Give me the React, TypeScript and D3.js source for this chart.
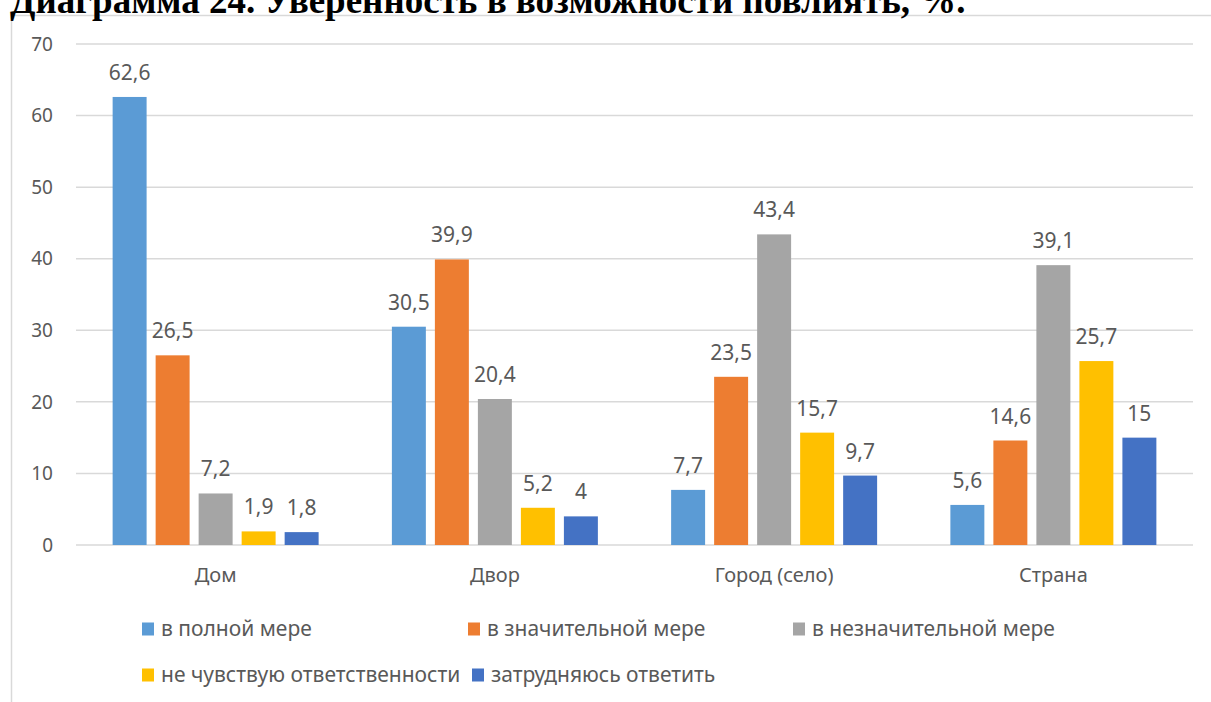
import React, { useEffect, useRef } from "react";
import * as d3 from "d3";

const categories = ["Дом", "Двор", "Город (село)", "Страна"];
const seriesNames = [
  "в полной мере",
  "в значительной мере",
  "в незначительной мере",
  "не чувствую ответственности",
  "затрудняюсь ответить",
];
const seriesColors = ["#5B9BD5", "#ED7D31", "#A5A5A5", "#FFC000", "#4472C4"];
const vPolnoy = [62.6, 30.5, 7.7, 5.6];
const vZnachit = [26.5, 39.9, 23.5, 14.6];
const vNeznachit = [7.2, 20.4, 43.4, 39.1];
const vNeChuvst = [1.9, 5.2, 15.7, 25.7];
const vZatrud = [1.8, 4, 9.7, 15];
const yTicks = [0, 10, 20, 30, 40, 50, 60, 70];
const title = "Диаграмма 24. Уверенность в возможности повлиять, %.";

const W = 1211;
const H = 702;
const FONT = "'Noto Sans', 'Open Sans', sans-serif";
const TXT = "#595959";

export default function App() {
  const ref = useRef<SVGSVGElement | null>(null);

  useEffect(() => {
    const svg = d3.select(ref.current);
    svg.selectAll("*").remove();

    const series = [vPolnoy, vZnachit, vNeznachit, vNeChuvst, vZatrud];
    const left = 76, right = 1193, top = 44, bottom = 545;

    // chart frame
    svg.append("rect").attr("x", 11.5).attr("y", 15.5).attr("width", 1300).attr("height", 800)
      .attr("fill", "#fff").attr("stroke", "#d9d9d9").attr("stroke-width", 1.5);

    // title (cropped at the top, as in the reference)
    svg.append("text").attr("x", 10).attr("y", 13).text(title)
      .attr("font-family", "'Liberation Serif', 'Times New Roman', serif")
      .attr("font-weight", "bold").attr("font-size", 37).attr("fill", "#000");

    const y = d3.scaleLinear().domain([0, 70]).range([bottom, top]);
    const x0 = d3.scaleBand<string>().domain(categories).range([left, right])
      .paddingInner(0.23).paddingOuter(0.115);
    const x1 = d3.scaleBand<number>().domain(d3.range(series.length))
      .range([0, x0.bandwidth()]).paddingInner(0.21).paddingOuter(0.105);

    // gridlines
    svg.append("g").selectAll("line").data(yTicks).join("line")
      .attr("x1", left).attr("x2", right)
      .attr("y1", (d) => y(d)).attr("y2", (d) => y(d))
      .attr("stroke", "#d9d9d9").attr("stroke-width", 1.5);

    // y tick labels
    svg.append("g").selectAll("text").data(yTicks).join("text")
      .attr("x", 53).attr("y", (d) => y(d)).attr("dy", "0.35em")
      .attr("text-anchor", "end").attr("font-family", FONT).attr("font-size", 19)
      .attr("fill", TXT).text((d) => String(d));

    // bars + labels
    const fmt = (v: number) => String(v).replace(".", ",");
    categories.forEach((c, ci) => {
      series.forEach((vals, si) => {
        const v = vals[ci];
        const bx = (x0(c) as number) + (x1(si) as number);
        svg.append("rect").attr("x", bx).attr("y", y(v))
          .attr("width", x1.bandwidth()).attr("height", y(0) - y(v))
          .attr("fill", seriesColors[si]);
        svg.append("text").attr("x", bx + x1.bandwidth() / 2).attr("y", y(v) - 17)
          .attr("text-anchor", "middle").attr("font-family", FONT).attr("font-size", 21)
          .attr("fill", TXT).text(fmt(v));
      });
      svg.append("text").attr("x", (x0(c) as number) + x0.bandwidth() / 2).attr("y", 582)
        .attr("text-anchor", "middle").attr("font-family", FONT).attr("font-size", 20)
        .attr("fill", TXT).text(c);
    });

    // legend
    const legendPos = [
      [142, 629], [468, 629], [793, 629],
      [142, 675], [472, 675],
    ];
    seriesNames.forEach((name, i) => {
      const [lx, ly] = legendPos[i];
      svg.append("rect").attr("x", lx).attr("y", ly - 6.5).attr("width", 12).attr("height", 13)
        .attr("fill", seriesColors[i]);
      svg.append("text").attr("x", lx + 19).attr("y", ly).attr("dy", "0.35em")
        .attr("font-family", FONT).attr("font-size", 21).attr("fill", TXT).text(name);
    });
  }, []);

  return (
    <svg ref={ref} width={W} height={H}
      style={{ position: "fixed", left: 0, top: 0, display: "block", background: "#fff" }} />
  );
}
